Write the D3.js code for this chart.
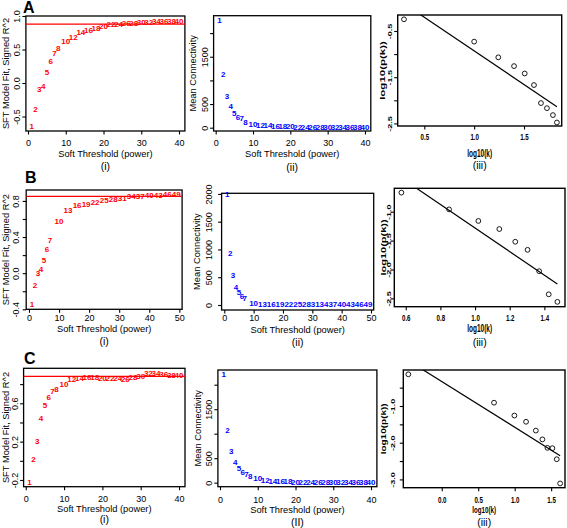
<!DOCTYPE html>
<html><head><meta charset="utf-8">
<script src="https://cdn.jsdelivr.net/npm/d3@7"></script>
<style>
html,body{margin:0;padding:0;background:#fff;}
svg{display:block;font-family:"Liberation Sans",Arial,sans-serif;}
</style></head>
<body><svg id="c" width="567" height="528"></svg>
<script>
// ---------------- DATA ----------------
const powersA = [1,2,3,4,5,6,7,8,10,12,14,16,18,20,22,24,26,28,30,32,34,36,38,40];
const sftA    = [-0.652,-0.393,-0.09,-0.055,0.154,0.318,0.443,0.512,0.622,0.682,0.757,0.79,0.816,0.85,0.866,0.876,0.885,0.895,0.90,0.906,0.915,0.92,0.925,0.925];
const connA   = [2262,1135,670,444,304,220,184,120,78,51,36,27,21,16,13,10,8,7,6,5,4,4,3,3];
const logkA   = [0.296,1.0,1.242,1.40,1.507,1.60,1.67,1.73,1.79,1.83];
const logpkA  = [-0.247,-0.73,-1.07,-1.26,-1.42,-1.67,-2.06,-2.17,-2.32,-2.48];
const fitA    = [0.524,-1.455];   // intercept, slope
const cutA    = 0.88;

const powersB = [1,2,3,4,5,6,7,10,13,16,19,22,25,28,31,34,37,40,43,46,49];
const sftB    = [-0.35,-0.137,0.0,0.037,0.14,0.258,0.36,0.57,0.69,0.75,0.76,0.78,0.81,0.82,0.83,0.845,0.85,0.86,0.865,0.87,0.87];
const connB   = [1986,933,523,319,222,162,121,31,13,8,6,4,3,2,2,1,1,1,1,1,1];
const logkB   = [0.575,0.85,1.019,1.14,1.232,1.303,1.37,1.425,1.475];
const logpkB  = [-0.67,-0.96,-1.16,-1.30,-1.52,-1.66,-2.03,-2.43,-2.56];
const fitB    = [0.757,-2.04];
const cutB    = 0.85;

const powersC = [1,2,3,4,5,6,7,8,10,12,14,16,18,20,22,24,26,28,30,32,34,36,38,40];
const sftC    = [-0.225,0.01,0.20,0.44,0.58,0.66,0.72,0.745,0.80,0.845,0.86,0.87,0.865,0.855,0.86,0.86,0.845,0.865,0.88,0.91,0.915,0.90,0.895,0.895];
const connC   = [2212,1075,633,408,280,212,171,122,76,41,30,22,17,13,10,8,7,6,5,4,4,3,3,2];
const logkC   = [-0.458,0.717,0.996,1.156,1.29,1.38,1.449,1.517,1.577,1.623];
const logpkC  = [-0.136,-0.91,-1.26,-1.43,-1.67,-1.91,-2.14,-2.15,-2.45,-3.11];
const fitC    = [-0.333,-1.245];
const cutC    = 0.88;

// ticks
const xTicks40 = [0,10,20,30,40];
const xTicks50 = [0,10,20,30,40,50];
const yTicksAi = [-0.5,0,0.5,1.0],            yLabAi = ["-0.5","0.0","0.5","1.0"];
const yTicksConn = [0,500,1000,1500,2000],    yLabConnA = ["0","500","","1500",""], yLabConnB = ["0","500","1000","1500","2000"];
const yTicksAiii = [-0.5,-1,-1.5,-2,-2.5],    yLabAiii = ["-0.5","","-1.5","","-2.5"];
const xTicksAiii = [0.5,1.0,1.5],             xLabAiii = ["0.5","1.0","1.5"];
const yTicksBi = [-0.4,-0.2,0,0.2,0.4,0.6,0.8], yLabBi = ["-0.4","","0.0","","0.4","","0.8"];
const yTicksBiii = [-1.0,-1.5,-2.0,-2.5],     yLabBiii = ["-1.0","-1.5","-2.0","-2.5"];
const xTicksBiii = [0.6,0.8,1.0,1.2,1.4],     xLabBiii = ["0.6","0.8","1.0","1.2","1.4"];
const yTicksCi = [-0.2,0,0.2,0.4,0.6,0.8],    yLabCi = ["-0.2","","0.2","","0.6",""];
const yTicksCiii = [-0.5,-1,-1.5,-2,-2.5,-3], yLabCiii = ["","-1.0","","-2.0","","-3.0"];
const xTicksCiii = [0,0.5,1.0,1.5],           xLabCiii = ["0.0","0.5","1.0","1.5"];

const svg = d3.select("#c");
let clipId = 0;

function panel(c){
  const [x0,y0,x1,y1] = c.box;
  const x = d3.scaleLinear().domain(c.xd).range([x0,x1]);
  const y = d3.scaleLinear().domain(c.yd).range([y1,y0]);
  const g = svg.append("g");
  const id = "clip"+(clipId++);
  g.append("clipPath").attr("id",id).append("rect").attr("x",x0).attr("y",y0).attr("width",x1-x0).attr("height",y1-y0);
  const iii = c.kind==="iii";
  const tickFont = iii ? 9.5 : 9;
  const tickW = iii ? "bold" : "normal";
  const sx = iii ? 0.65 : 1;

  // x axis
  const xa = g.append("g").attr("transform",`translate(0,${y1})`)
    .call(d3.axisBottom(x).tickValues(c.xt).tickFormat((d,i)=>c.xtl[i]).tickSizeOuter(0).tickSize(3.5));
  xa.select(".domain").remove();
  xa.selectAll(".tick line").attr("stroke","#000").attr("stroke-width",1.1);
  xa.selectAll(".tick text").attr("y",0).attr("dy",null)
    .attr("transform",`translate(0,${c.tickY-y1}) scale(${sx},1)`)
    .attr("dominant-baseline","central")
    .attr("font-size",tickFont).attr("font-weight",tickW).attr("font-family","Liberation Sans, Arial, sans-serif").attr("fill","#000");
  // y axis
  const ya = g.append("g").attr("transform",`translate(${x0},0)`)
    .call(d3.axisLeft(y).tickValues(c.yt).tickFormat((d,i)=>c.ytl[i]).tickSizeOuter(0).tickSize(3.5));
  ya.select(".domain").remove();
  ya.selectAll(".tick line").attr("stroke","#000").attr("stroke-width",1.1);
  ya.selectAll(".tick text").attr("x",0).attr("y",0).attr("dy",null)
    .attr("transform",`translate(${-(x0-c.ytickX)},0) rotate(-90) scale(1,${sx})`)
    .attr("text-anchor","middle").attr("dominant-baseline","central")
    .attr("font-size",9).attr("font-weight",tickW).attr("font-family","Liberation Sans, Arial, sans-serif").attr("fill","#000");

  // box
  g.append("rect").attr("x",x0).attr("y",y0).attr("width",x1-x0).attr("height",y1-y0)
    .attr("fill","none").attr("stroke","#000").attr("stroke-width",iii?1.4:1.3);

  // axis titles
  g.append("text").attr("transform",`translate(${(x0+x1)/2},${c.xlabY}) scale(${sx},1)`)
    .attr("text-anchor","middle").attr("dominant-baseline","central")
    .attr("font-size",c.xlabSize||9.3).attr("font-weight",iii?"bold":"normal").text(c.xlab);
  g.append("text").attr("transform",`translate(${c.ylabX},${(y0+y1)/2}) rotate(-90) scale(1,${sx})`)
    .attr("text-anchor","middle").attr("dominant-baseline","central")
    .attr("font-size",c.ylabSize||9.3).attr("font-weight",iii?"bold":"normal").text(c.ylab);
  g.append("text").attr("x",(x0+x1)/2).attr("y",c.subY)
    .attr("text-anchor","middle").attr("dominant-baseline","central")
    .attr("font-size",10.5).text(c.sub);

  if(c.kind==="i"){
    g.append("line").attr("clip-path",`url(#${id})`)
      .attr("x1",x0).attr("x2",x1).attr("y1",y(c.cut)).attr("y2",y(c.cut))
      .attr("stroke","#ff0000").attr("stroke-width",1.2);
  }
  if(c.kind==="i"||c.kind==="ii"){
    g.selectAll("text.num").data(c.px).join("text").attr("class","num")
      .attr("x",d=>x(d)).attr("y",(d,i)=>y(c.py[i]))
      .attr("text-anchor","middle").attr("dominant-baseline","central")
      .attr("font-size",8).attr("font-weight","bold").attr("fill",c.kind==="i"?"#ff0000":"#0000ff")
      .text(d=>d);
  }
  if(iii){
    const xs = [c.px[0], c.px[c.px.length-1]];
    g.append("line").attr("clip-path",`url(#${id})`)
      .attr("x1",x(xs[0])).attr("y1",y(c.fit[0]+c.fit[1]*xs[0]))
      .attr("x2",x(xs[1])).attr("y2",y(c.fit[0]+c.fit[1]*xs[1]))
      .attr("stroke","#000").attr("stroke-width",1.2);
    g.selectAll("circle.pt").data(c.px).join("circle").attr("class","pt")
      .attr("cx",d=>x(d)).attr("cy",(d,i)=>y(c.py[i])).attr("r",2.4)
      .attr("fill","none").attr("stroke","#000").attr("stroke-width",0.9);
  }
}

const SFT = "SFT Model Fit, Signed R^2", ST = "Soft Threshold (power)", MC = "Mean Connectivity";
// Row A
panel({kind:"i", box:[25.9,16,184.9,131], xd:[-0.56,41.56], yd:[-0.716,1.0], xt:xTicks40, xtl:xTicks40.map(String),
  yt:yTicksAi, ytl:yLabAi, tickY:142.5, xlabY:153.5, subY:165.5, ytickX:16.7, ylabX:5.5,
  xlab:ST, ylab:SFT, sub:"(i)", px:powersA, py:sftA, cut:cutA});
panel({kind:"ii", box:[213.6,15.7,370.8,131], xd:[-0.56,41.56], yd:[-70,2368], xt:xTicks40, xtl:xTicks40.map(String),
  yt:yTicksConn, ytl:yLabConnA, tickY:142.5, xlabY:154, subY:166.5, ytickX:205, ylabX:193.3,
  xlab:ST, ylab:MC, sub:"(ii)", px:powersA, py:connA});
panel({kind:"iii", box:[397.7,15,561.7,126], xd:[0.233,1.878], yd:[-2.556,-0.154], xt:xTicksAiii, xtl:xLabAiii,
  yt:yTicksAiii, ytl:yLabAiii, tickY:137, xlabY:153.5, subY:165, ytickX:390, ylabX:382.5, xlabSize:10, ylabSize:11.5,
  xlab:"log10(k)", ylab:"log10(p(k))", sub:"(iii)", px:logkA, py:logpkA, fit:fitA});
// Row B
panel({kind:"i", box:[26.2,190,182.1,309.3], xd:[-0.92,50.92], yd:[-0.40,0.921], xt:xTicks50, xtl:xTicks50.map(String),
  yt:yTicksBi, ytl:yLabBi, tickY:317.7, xlabY:329.3, subY:340.5, ytickX:15.7, ylabX:5.5,
  xlab:ST, ylab:SFT, sub:"(i)", px:powersB, py:sftB, cut:cutB});
panel({kind:"ii", box:[221.6,193.3,373.7,310], xd:[-0.92,50.92], yd:[-90,2011], xt:xTicks50, xtl:xTicks50.map(String),
  yt:yTicksConn, ytl:yLabConnB, tickY:317.5, xlabY:330, subY:342, ytickX:209, ylabX:196.7,
  xlab:ST, ylab:MC, sub:"(ii)", px:powersB, py:connB});
panel({kind:"iii", box:[394.3,188.3,565,306.7], xd:[0.534,1.519], yd:[-2.644,-0.595], xt:xTicksBiii, xtl:xLabBiii,
  yt:yTicksBiii, ytl:yLabBiii, tickY:318, xlabY:328.5, subY:341.5, ytickX:389, ylabX:383.3, xlabSize:10, ylabSize:11,
  xlab:"log10(k)", ylab:"log10(p(k))", sub:"(iii)", px:logkB, py:logpkB, fit:fitB});
// Row C
panel({kind:"i", box:[23.6,368.3,185,486.7], xd:[-0.56,41.56], yd:[-0.27,0.965], xt:xTicks40, xtl:xTicks40.map(String),
  yt:yTicksCi, ytl:yLabCi, tickY:499, xlabY:508.5, subY:518.5, ytickX:15, ylabX:5.5,
  xlab:ST, ylab:SFT, sub:"(i)", px:powersC, py:sftC, cut:cutC});
panel({kind:"ii", box:[217.9,370,376.9,486.7], xd:[-0.56,41.56], yd:[-82,2300], xt:xTicks40, xtl:xTicks40.map(String),
  yt:yTicksConn, ytl:yLabConnA, tickY:500, xlabY:509.5, subY:521.5, ytickX:209, ylabX:198.3,
  xlab:ST, ylab:MC, sub:"(II)", px:powersC, py:connC});
panel({kind:"iii", box:[403.3,370,565,487.7], xd:[-0.527,1.69], yd:[-3.226,-0.019], xt:xTicksCiii, xtl:xLabCiii,
  yt:yTicksCiii, ytl:yLabCiii, tickY:500, xlabY:510.5, subY:522, ytickX:393.3, ylabX:383.3, xlabSize:9.5, ylabSize:10,
  xlab:"log10(k)", ylab:"log10(p(k))", sub:"(iii)", px:logkC, py:logpkC, fit:fitC});

// panel letters
const letters = [["A",23,12.5],["B",25,183],["C",24,364]];
svg.selectAll("text.letter").data(letters).join("text").attr("class","letter")
  .attr("x",d=>d[1]).attr("y",d=>d[2]).attr("font-size",16).attr("font-weight","bold").text(d=>d[0]);
</script>
</body></html>
